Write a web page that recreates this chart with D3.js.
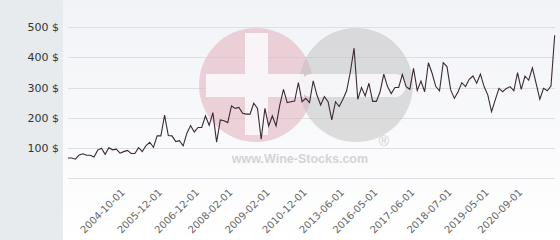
<!DOCTYPE html>
<html>
<head>
<meta charset="utf-8">
<script src="https://cdn.jsdelivr.net/npm/d3@7"></script>
<style>
html,body{margin:0;padding:0;background:#fff;}
svg{display:block;}
</style>
</head>
<body>
<svg id="chart" width="560" height="240"></svg>
<script>
// ---- data ----
const prices = [
  67, 67, 63, 77, 81, 76, 76, 70, 93, 99, 79, 101, 94, 96, 83, 88, 92, 82, 82, 101, 88, 108, 119, 102,
  140, 140, 209, 141, 140, 121, 124, 107, 149, 174, 153, 168, 168, 206, 175, 217, 119, 193, 190, 184, 239,
  231, 234, 215, 212, 212, 248, 231, 129, 231, 173, 206, 173, 242, 294, 250, 253, 255, 316, 253, 264, 250, 322,
  275, 242, 270, 253, 193, 253, 237, 261, 289, 352, 430, 261, 300, 272, 314, 254, 254, 286, 344, 303, 280, 300, 300, 343,
  303, 294, 363, 290, 321, 286, 382, 347, 303, 289, 382, 369, 292, 264, 286, 316, 303, 327, 338, 314, 344, 303,
  275, 220, 259, 297, 286, 297, 303, 289, 349, 294, 338, 324, 365, 314, 261, 297, 289, 305, 473
];
const tickLabels = ["2004-10-01","2005-12-01","2006-12-01","2008-02-01","2009-02-01","2010-12-01",
                    "2013-06-01","2016-05-01","2017-06-01","2018-07-01","2019-05-01","2020-09-01"];
const tickIndex = [14, 24, 34, 43, 53, 63, 73, 82, 92, 102, 112, 121];
const yTicks = [100, 200, 300, 400, 500];
const yGrid = [0, 100, 200, 300, 400, 500];

// ---- drawing ----
const W = 560, H = 240;
const svg = d3.select("#chart");
const defs = svg.append("defs");
const grad = defs.append("linearGradient").attr("id","bg").attr("x1",0).attr("y1",0).attr("x2",0).attr("y2",1);
grad.append("stop").attr("offset","0%").attr("stop-color","#f2f3f7");
grad.append("stop").attr("offset","100%").attr("stop-color","#ffffff");

svg.append("rect").attr("x",0).attr("y",0).attr("width",63).attr("height",H).attr("fill","#e7ebee");
svg.append("rect").attr("x",63).attr("y",0).attr("width",W-63).attr("height",H).attr("fill","url(#bg)");

const x = d3.scalePoint().domain(d3.range(prices.length)).range([68, 554.7]);
const y = d3.scaleLinear().domain([0, 500]).range([178.25, 27]);

// grid lines
svg.append("g").selectAll("line").data(yGrid).join("line")
  .attr("x1", 68).attr("x2", 555)
  .attr("y1", d => Math.round(y(d)) + 0.5).attr("y2", d => Math.round(y(d)) + 0.5)
  .attr("stroke", "#dedfe2").attr("stroke-width", 1);

// watermark
const wm = svg.append("g");
wm.append("circle").attr("cx", 256).attr("cy", 85).attr("r", 57).attr("fill", "#e4b4bf").attr("opacity", 0.58);
wm.append("circle").attr("cx", 356).attr("cy", 85).attr("r", 57).attr("fill", "#bfbfbf").attr("opacity", 0.52);
const wmW = svg.append("g").attr("opacity", 0.85);
wmW.append("rect").attr("x", 245).attr("y", 33).attr("width", 23).attr("height", 102).attr("fill", "#fbfbfd");
wmW.append("rect").attr("x", 206).attr("y", 74).attr("width", 98).attr("height", 23).attr("fill", "#fbfbfd");
wmW.append("rect").attr("x", 300).attr("y", 74).attr("width", 106).attr("height", 23).attr("rx", 11.5).attr("fill", "#fbfbfd");
svg.append("text").attr("x", 300).attr("y", 163).attr("text-anchor", "middle")
  .attr("font-family", "Liberation Sans, Arial, sans-serif").attr("font-weight", "bold")
  .attr("font-size", 12.5).attr("fill", "#d4d4d6").text("www.Wine-Stocks.com");
svg.append("text").attr("x", 384).attr("y", 146).attr("text-anchor", "middle")
  .attr("font-family", "Liberation Sans, Arial, sans-serif")
  .attr("font-size", 14).attr("fill", "#cfcfd1").text("®");

// y axis labels
const yAxis = d3.axisLeft(y).tickValues(yTicks).tickFormat(d => d + " $").tickSize(0).tickPadding(0);
const gy = svg.append("g").attr("transform", "translate(59,0)").call(yAxis);
gy.select(".domain").remove();
gy.selectAll("text").attr("font-family", "DejaVu Sans, sans-serif").attr("font-size", 11).attr("fill", "#333");

// x axis labels
const xAxis = d3.axisBottom(x).tickValues(tickIndex).tickFormat((d, i) => tickLabels[i]).tickSize(0).tickPadding(0);
const gx = svg.append("g").attr("transform", "translate(0,193)").call(xAxis);
gx.select(".domain").remove();
gx.selectAll("text")
  .attr("font-family", "DejaVu Sans, sans-serif").attr("font-size", 10).attr("fill", "#666")
  .attr("text-anchor", "end").attr("dy", 0).attr("y", 0)
  .attr("transform", "translate(5,0) rotate(-45)");

// price line
const line = d3.line().x((d, i) => x(i)).y(d => y(d));
svg.append("path").datum(prices).attr("d", line)
  .attr("fill", "none").attr("stroke", "#3b2a37").attr("stroke-width", 1.1)
  .attr("stroke-linejoin", "miter");
</script>
</body>
</html>
